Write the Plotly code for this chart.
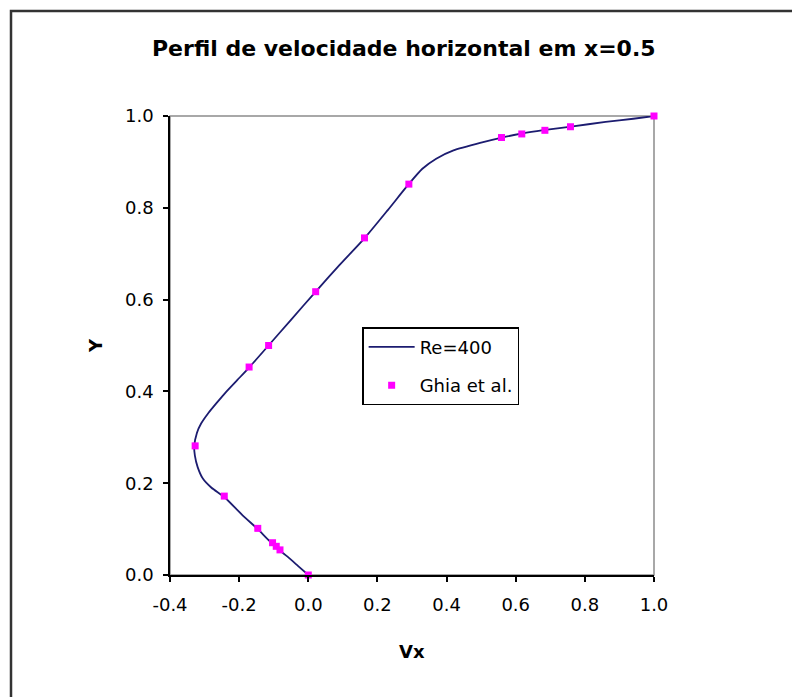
import plotly.graph_objects as go

# Simulated horizontal velocity profile along the vertical centreline (Re=400)
vx_sim = [0.0, -0.03, -0.06, -0.085, -0.12, -0.146, -0.19, -0.243, -0.28, -0.305,
          -0.32, -0.328, -0.33, -0.322, -0.31, -0.29, -0.265, -0.24, -0.205,
          -0.17, -0.115, -0.05, 0.021, 0.09, 0.163, 0.23, 0.291, 0.33, 0.37,
          0.42, 0.50, 0.56, 0.62, 0.68, 0.76, 0.86, 0.94, 1.0]
y_sim = [0.0, 0.02, 0.04, 0.055, 0.08, 0.10, 0.13, 0.17, 0.19, 0.21,
         0.235, 0.26, 0.28, 0.31, 0.33, 0.352, 0.375, 0.397, 0.425,
         0.453, 0.50, 0.556, 0.617, 0.675, 0.734, 0.795, 0.852, 0.885, 0.907,
         0.925, 0.942, 0.953, 0.962, 0.969, 0.977, 0.987, 0.994, 1.0]

# Reference data of Ghia et al. (Re=400)
vx_ghia = [1.0, 0.75837, 0.68439, 0.61756, 0.55892, 0.29093, 0.16256, 0.02135,
           -0.11477, -0.17119, -0.32726, -0.24299, -0.14612, -0.10338, -0.09266,
           -0.08186, 0.0]
y_ghia = [1.0, 0.9766, 0.9688, 0.9609, 0.9531, 0.8516, 0.7344, 0.6172,
          0.5, 0.4531, 0.2813, 0.1719, 0.1016, 0.0703, 0.0625, 0.0547, 0.0]

x_ticks = [-0.4, -0.2, 0.0, 0.2, 0.4, 0.6, 0.8, 1.0]
x_labels = ["-0.4", "-0.2", "0.0", "0.2", "0.4", "0.6", "0.8", "1.0"]
y_ticks = [0.0, 0.2, 0.4, 0.6, 0.8, 1.0]
y_labels = ["0.0", "0.2", "0.4", "0.6", "0.8", "1.0"]

FONT = "DejaVu Sans, Liberation Sans, Arial, sans-serif"

fig = go.Figure()
fig.add_trace(go.Scatter(
    x=vx_sim, y=y_sim, mode="lines", name="Re=400",
    line=dict(color="#1c1c70", width=1.8, shape="spline", smoothing=0.6),
    legendgroup="a", cliponaxis=False,
))
fig.add_trace(go.Scatter(
    x=vx_ghia, y=y_ghia, mode="markers", name="Ghia et al.",
    marker=dict(symbol="square", size=7, color="#ff00ff", line=dict(width=0)),
    legendgroup="b", cliponaxis=False,
))

axis_common = dict(
    showgrid=False, zeroline=False, showline=True, linecolor="black", linewidth=1.5,
    ticks="outside", ticklen=5, tickwidth=1.5, tickcolor="black",
    tickfont=dict(family=FONT, size=18, color="black"),
    mirror=False,
)
fig.update_xaxes(range=[-0.4, 1.0], tickvals=x_ticks, ticktext=x_labels,
                 ticklabelstandoff=8, **axis_common)
fig.update_yaxes(range=[0.0, 1.0], tickvals=y_ticks, ticktext=y_labels,
                 ticklabelstandoff=6, **axis_common)

fig.update_layout(
    width=792, height=697,
    margin=dict(l=170, r=138, t=116, b=122),
    plot_bgcolor="white", paper_bgcolor="white",
    showlegend=True,
    legend=dict(
        x=0.397, y=0.540, xanchor="left", yanchor="top",
        bordercolor="black", borderwidth=1.5, bgcolor="white",
        font=dict(family=FONT, size=18, color="black"),
        traceorder="grouped", tracegroupgap=12, itemwidth=46,
    ),
    shapes=[
        # grey frame of the plotting area
        dict(type="rect", xref="paper", yref="paper", x0=0, y0=0, x1=1, y1=1,
             line=dict(color="#8c8c8c", width=1.5), layer="below"),
        # outer chart border
        dict(type="rect", xref="paper", yref="paper",
             x0=-0.3285, y0=-0.28, x1=1.32, y1=1.2288,
             line=dict(color="#333333", width=2.5)),
    ],
    annotations=[
        dict(text="<b>Perfil de velocidade horizontal em x=0.5</b>", xref="paper", yref="paper",
             x=0.4835, y=1.148, showarrow=False, xanchor="center", yanchor="middle",
             font=dict(family=FONT, size=22, color="black")),
        dict(text="<b>Vx</b>", xref="paper", yref="paper",
             x=0.5, y=-0.1656, showarrow=False, xanchor="center", yanchor="middle",
             font=dict(family=FONT, size=18, color="black")),
        dict(text="<b>Y</b>", xref="paper", yref="paper", textangle=-90,
             x=-0.155, y=0.501, showarrow=False, xanchor="center", yanchor="middle",
             font=dict(family=FONT, size=18, color="black")),
    ],
)

fig.write_html("out.html")
